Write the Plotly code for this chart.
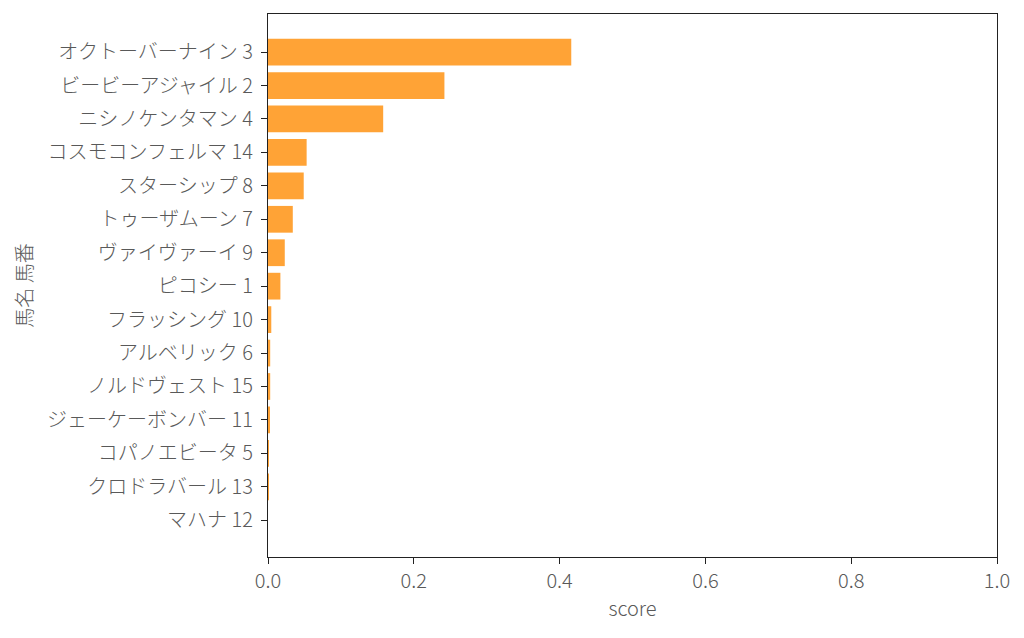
import plotly.graph_objects as go

# horse names + numbers, top to bottom as in the chart
horses = ['オクトーバーナイン 3', 'ビービーアジャイル 2', 'ニシノケンタマン 4', 'コスモコンフェルマ 14',
          'スターシップ 8', 'トゥーザムーン 7', 'ヴァイヴァーイ 9', 'ピコシー 1',
          'フラッシング 10', 'アルベリック 6', 'ノルドヴェスト 15', 'ジェーケーボンバー 11',
          'コパノエビータ 5', 'クロドラバール 13', 'マハナ 12']
scores = [0.416, 0.242, 0.158, 0.053, 0.049, 0.034, 0.023, 0.017,
          0.0045, 0.003, 0.003, 0.0015, 0.001, 0.001, 0.0]

font = 'Noto Sans CJK JP Light, Noto Sans CJK JP'
txt = '#595959'
ax = '#222222'

fig = go.Figure(go.Bar(
    x=scores[::-1], y=horses[::-1], orientation='h',
    width=0.8, marker=dict(color='#FFA336', line=dict(width=0)),
))

# page body has ~8px margin, so the figure is shifted by that
fig.update_layout(
    width=1008, height=622,
    margin=dict(l=260, r=19, t=6, b=73),
    plot_bgcolor='white', paper_bgcolor='white',
    font=dict(family=font, size=20, color=txt, weight=300),
    showlegend=False,
)
fig.update_xaxes(
    range=[0, 1.0], dtick=0.2, tickformat='.1f',
    showgrid=False, zeroline=False, automargin=False,
    showline=True, linecolor=ax, linewidth=1.3, mirror=True,
    ticks='outside', ticklen=6, tickcolor=ax,
    title=dict(text='score', font=dict(size=20, color=txt, weight=300), standoff=8),
)
fig.update_yaxes(
    type='category', range=[-1.1, 15.14],
    showgrid=False, zeroline=False, automargin=False,
    showline=True, linecolor=ax, linewidth=1.3, mirror=True,
    ticks='outside', ticklen=6, tickcolor=ax, ticklabelstandoff=4,
    title=dict(text='馬名 馬番', font=dict(size=20, color=txt, weight=300), standoff=9),
)

fig.write_html("out.html")
